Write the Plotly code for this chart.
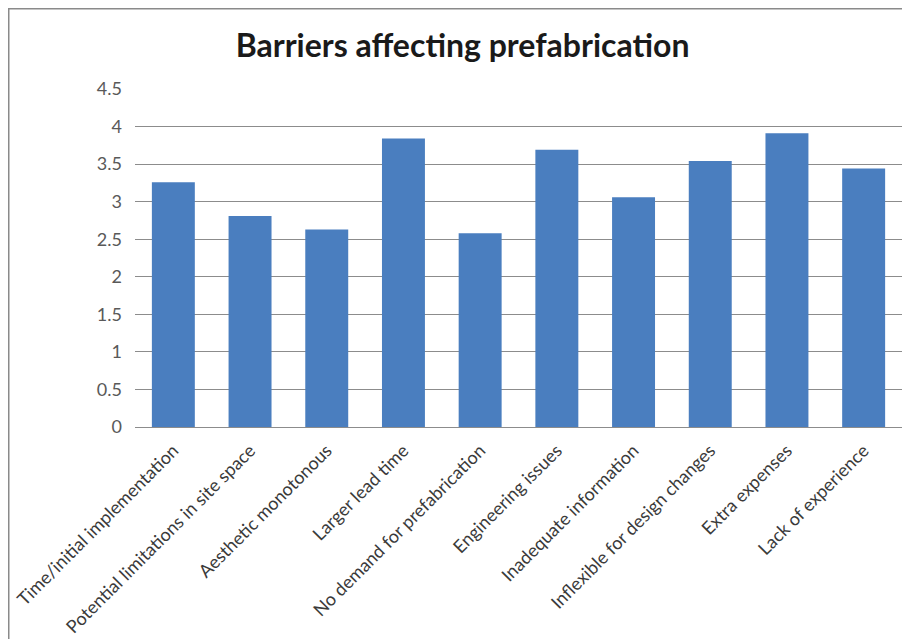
import plotly.graph_objects as go

categories = [
    "Time/initial implementation",
    "Potential limitations in site space",
    "Aesthetic monotonous",
    "Larger lead time",
    "No demand for prefabrication",
    "Engineering issues",
    "Inadequate information",
    "Inflexible for design changes",
    "Extra expenses",
    "Lack of experience",
]
values = [3.26, 2.81, 2.63, 3.84, 2.58, 3.69, 3.06, 3.54, 3.91, 3.44]
y_ticks = [0, 0.5, 1, 1.5, 2, 2.5, 3, 3.5, 4, 4.5]
y_tick_labels = ["0", "0.5", "1", "1.5", "2", "2.5", "3", "3.5", "4", "4.5"]

# The page body has an 8px margin, so the figure starts at (8, 8).
W, H = 902, 631
ML, MR, MT, MB = 127, 8, 81, 212

fig = go.Figure(
    go.Bar(
        x=categories,
        y=values,
        marker=dict(color="#4A7EBF", line=dict(width=0)),
        hoverinfo="skip",
    )
)

pw = W - ML - MR
ph = H - MT - MB


def px_to_paper_x(px):
    return (px - ML) / pw


def px_to_paper_y(py):
    return (H - MB - py) / ph


frame_color = "#8a8a8a"
fig.add_shape(type="line", xref="paper", yref="paper",
              x0=px_to_paper_x(0), x1=px_to_paper_x(W),
              y0=px_to_paper_y(0.75), y1=px_to_paper_y(0.75),
              line=dict(color=frame_color, width=1.5))
fig.add_shape(type="line", xref="paper", yref="paper",
              x0=px_to_paper_x(0.75), x1=px_to_paper_x(0.75),
              y0=px_to_paper_y(0), y1=px_to_paper_y(H),
              line=dict(color=frame_color, width=1.5))

fig.update_layout(
    width=W,
    height=H,
    margin=dict(l=ML, r=MR, t=MT, b=MB, autoexpand=False),
    paper_bgcolor="white",
    plot_bgcolor="white",
    bargap=0.44,
    showlegend=False,
    title=dict(
        text="<b>Barriers affecting prefabrication</b>",
        x=0.504,
        xanchor="center",
        y=1 - 38 / H,
        yanchor="middle",
        font=dict(family="Lato", size=32, color="#1a1a1a"),
    ),
    xaxis=dict(
        tickangle=-45,
        tickfont=dict(family="Lato", size=18, color="#3a3a3a"),
        showgrid=False,
        showline=False,
        ticks="outside",
        ticklen=5,
        tickcolor="rgba(0,0,0,0)",
    ),
    yaxis=dict(
        range=[0, 4.5],
        tickvals=y_ticks,
        ticktext=y_tick_labels,
        tickfont=dict(family="Lato", size=18, color="#595959"),
        showgrid=True,
        gridcolor="#8c8c8c",
        gridwidth=1,
        zeroline=True,
        zerolinecolor="#8c8c8c",
        zerolinewidth=1,
        showline=False,
        ticks="",
        ticklabelstandoff=12,
    ),
)

fig.write_html("out.html")
